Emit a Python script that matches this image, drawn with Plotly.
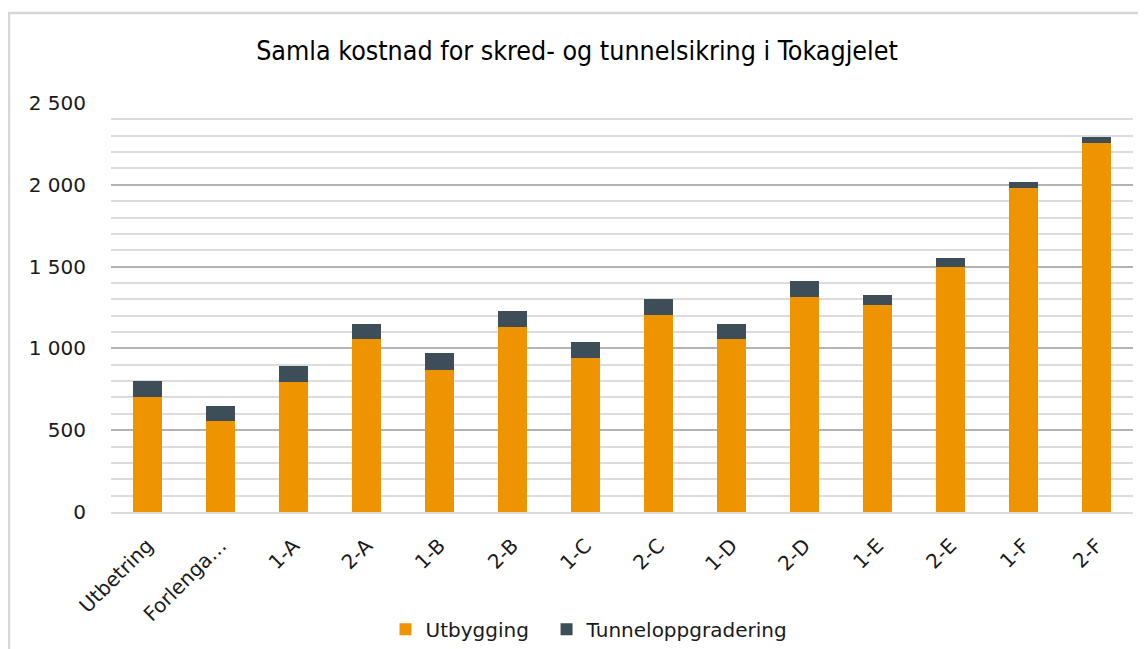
import plotly.graph_objects as go

# Chart data.
categories = ["Utbetring", "Forlenga…", "1-A", "2-A", "1-B", "2-B", "1-C",
              "2-C", "1-D", "2-D", "1-E", "2-E", "1-F", "2-F"]
utbygging = [700, 555, 795, 1055, 870, 1130, 940, 1205, 1055, 1315, 1265,
             1495, 1980, 2255]
tunnel = [100, 95, 95, 95, 100, 100, 100, 95, 95, 100, 60, 60, 40, 40]
y_ticks = [0, 500, 1000, 1500, 2000, 2500]
y_tick_labels = ["0", "500", "1 000", "1 500", "2 000", "2 500"]

fig = go.Figure()
# Two non-breaking spaces widen the gap between the legend entries.
fig.add_trace(go.Bar(x=categories, y=utbygging, name="Utbygging\u00a0\u00a0",
                     marker_color="#EE9400", marker_line_width=0))
fig.add_trace(go.Bar(x=categories, y=tunnel, name="Tunneloppgradering",
                     marker_color="#3E4E59", marker_line_width=0))

# The page body adds an 8px margin, so the figure is 8px smaller each way.
fig.update_layout(
    barmode="stack",
    bargap=0.6,
    width=1138, height=641,
    margin=dict(l=103, r=13, t=95, b=137, autoexpand=False),
    paper_bgcolor="white", plot_bgcolor="white",
    font=dict(family="DejaVu Sans", size=20, color="#1a1a1a"),
    title=dict(text="Samla kostnad for skred- og tunnelsikring i Tokagjelet",
               x=0.5, xanchor="center", y=0.933, yanchor="middle",
               font=dict(family="DejaVu Sans Condensed", size=26.6,
                         color="black")),
    legend=dict(orientation="h", xref="container", yref="container",
                x=0.511, xanchor="center", y=0.031, yanchor="middle",
                font=dict(size=20), itemwidth=30, traceorder="normal"),
    showlegend=True,
)

fig.update_yaxes(range=[0, 2500], tickvals=y_ticks, ticktext=y_tick_labels,
                 showgrid=True, gridcolor="#B3B3B3", gridwidth=2,
                 zeroline=False, ticks="", ticklabelstandoff=24,
                 automargin=False,
                 minor=dict(dtick=100, showgrid=True, gridcolor="#DCDCDC",
                            gridwidth=2))
fig.update_xaxes(tickangle=-45, showgrid=False, showline=True,
                 linecolor="#DCDCDC", linewidth=2, ticks="",
                 ticklabelstandoff=12, automargin=False,
                 tickfont=dict(size=20))

# Light frame round the chart (left and top edges only are visible).
fig.add_shape(type="path", xref="paper", yref="paper",
              path="M -0.0998,-0.35 L -0.0998,1.220 L 1.02,1.220",
              line=dict(color="#D6D6D6", width=2.5))

fig.write_html("out.html")
